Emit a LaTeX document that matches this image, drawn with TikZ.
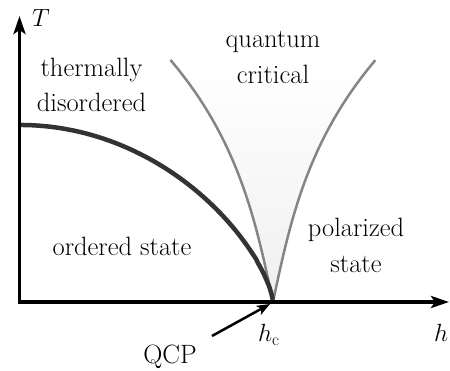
\documentclass[tikz,border=0pt]{standalone}
\usetikzlibrary{arrows.meta}
\definecolor{curvedark}{HTML}{333333}
\definecolor{curvegray}{HTML}{858585}
\begin{document}
\begin{tikzpicture}[x=1pt,y=-1pt,
  lbl/.style={font=\fontsize{26.5}{32}\selectfont, inner sep=0pt, anchor=base},
  axisline/.style={line width=3.5pt, -{Stealth[length=18pt,width=12pt,inset=4pt]}},
  crossover/.style={curvegray, line width=2.5pt},
  phaseline/.style={curvedark, line width=4.5pt},
  pointer/.style={line width=2.5pt, -{Stealth[length=13pt,width=10pt,inset=3pt]}}]
\useasboundingbox (0,0) rectangle (450,371);
% quantum critical fan
\shade[top color=white, bottom color=black!6]
  plot[domain=1:0, samples=60] ({273-102.5*(\x+\x*\x*\x)/2}, {302-242*\x})
  -- plot[domain=0:1, samples=60] ({273+102.5*(\x+\x*\x*\x)/2}, {302-242*\x})
  -- cycle;
\draw[crossover] plot[domain=1:0, samples=60] ({273-102.5*(\x+\x*\x*\x)/2}, {302-242*\x});
\draw[crossover] plot[domain=0:1, samples=60] ({273+102.5*(\x+\x*\x*\x)/2}, {302-242*\x});
% phase boundary
\draw[phaseline] plot[domain=0:1, samples=200] ({20+253*\x}, {302-177*(max(1-\x*\x,0.000001))^0.7});
% axes
\coordinate (O) at (19.5,302);
\coordinate (Ttop) at (19.5,16);
\coordinate (Hend) at (449,302);
\coordinate (qcp) at (273,302);
\draw[axisline] ([yshift=-1.75pt]O) -- (Ttop);
\draw[axisline] ([xshift=-1.75pt]O) -- (Hend);
% labels
\node[lbl, anchor=base west] (T) at (32,27) {$T$};
\node[lbl, anchor=base west] (h) at (434,341.7) {$h$};
\node[lbl, anchor=base west] (hc) at (258,341.7) {$h_{\mathrm{c}}$};
\node[lbl] (QCP) at (170,364) {QCP};
\node[lbl] (th1) at (91.5,76.5) {thermally};
\node[lbl] (th2) at (91.5,111.5) {disordered};
\node[lbl] (qc1) at (273,48) {quantum};
\node[lbl] (qc2) at (273,83.3) {critical};
\node[lbl] (ord) at (122,255.7) {ordered state};
\node[lbl] (pol1) at (356,237) {polarized};
\node[lbl] (pol2) at (356,273) {state};
% QCP pointer
\coordinate (qs) at (212,336);
\coordinate (qt) at (270,304);
\draw[pointer] (qs) -- (qt);
\end{tikzpicture}
\end{document}
